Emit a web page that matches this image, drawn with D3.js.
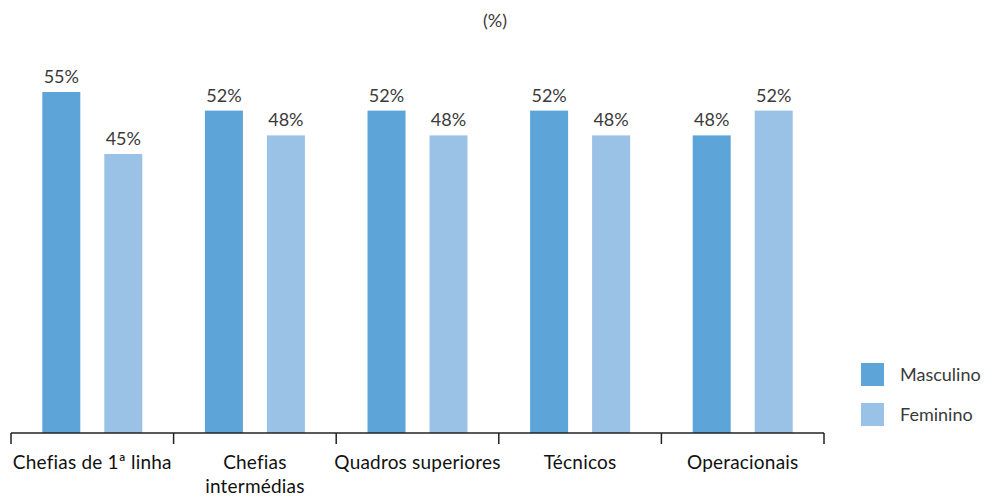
<!DOCTYPE html>
<html>
<head>
<meta charset="utf-8">
<script src="https://cdn.jsdelivr.net/npm/d3@7"></script>
<style>
  html, body { margin: 0; padding: 0; background: #fff; }
  svg { display: block; font-family: Lato, "Open Sans", sans-serif; }
</style>
</head>
<body>
<svg id="chart" width="984" height="499"></svg>
<script>
const categories = [["Chefias de 1ª linha"], ["Chefias", "intermédias"], ["Quadros superiores"], ["Técnicos"], ["Operacionais"]];
const seriesNames = ["Masculino", "Feminino"];
const masculino = [55, 52, 52, 52, 48];
const feminino = [45, 48, 48, 48, 52];
const colors = ["#5DA5D8", "#9AC2E6"];
const title = "(%)";

const values = [masculino, feminino];
const svg = d3.select("#chart");
const textColor = "#3a3a3a";

const catKeys = categories.map(c => c.join(" "));
const x0 = d3.scaleBand().domain(catKeys).range([11, 824]).padding(0);
const x1 = d3.scaleBand().domain(seriesNames).range([-50, 50]).paddingInner(0.387).paddingOuter(0);
const y = d3.scaleLinear().domain([0, 60]).range([433, 61]);

svg.append("text")
  .attr("x", 495).attr("y", 27)
  .attr("text-anchor", "middle")
  .attr("font-size", 18)
  .attr("fill", textColor)
  .text(title);

const groups = svg.selectAll("g.cat")
  .data(catKeys)
  .join("g")
  .attr("class", "cat")
  .attr("transform", d => `translate(${x0(d) + x0.bandwidth() / 2},0)`);

groups.each(function(cat, i) {
  const g = d3.select(this);
  seriesNames.forEach((s, si) => {
    const v = values[si][i];
    g.append("rect")
      .attr("x", x1(s))
      .attr("y", y(v))
      .attr("width", x1.bandwidth())
      .attr("height", y(0) - y(v))
      .attr("fill", colors[si]);
    g.append("text")
      .attr("x", x1(s) + x1.bandwidth() / 2)
      .attr("y", y(v) - 9)
      .attr("text-anchor", "middle")
      .attr("font-size", 18)
      .attr("fill", textColor)
      .text(v + "%");
  });
});

// axis
const axisG = svg.append("g");
axisG.append("line")
  .attr("x1", x0.range()[0]).attr("x2", x0.range()[1])
  .attr("y1", y(0)).attr("y2", y(0))
  .attr("stroke", "#222").attr("stroke-width", 1.5);
const boundaries = catKeys.map(c => x0(c)).concat([x0.range()[1]]);
axisG.selectAll("line.tick")
  .data(boundaries)
  .join("line")
  .attr("class", "tick")
  .attr("x1", d => d).attr("x2", d => d)
  .attr("y1", y(0)).attr("y2", y(0) + 11)
  .attr("stroke", "#222").attr("stroke-width", 1.5);

categories.forEach((lines, i) => {
  const cx = x0(catKeys[i]) + x0.bandwidth() / 2;
  const t = svg.append("text")
    .attr("text-anchor", "middle")
    .attr("font-size", 19)
    .attr("letter-spacing", 0.2)
    .attr("fill", "#111");
  lines.forEach((ln, li) => {
    t.append("tspan").attr("x", cx).attr("y", 469 + li * 24).text(ln);
  });
});

// legend
const legend = svg.append("g");
seriesNames.forEach((s, i) => {
  const ly = 363 + i * 40;
  legend.append("rect")
    .attr("x", 861).attr("y", ly)
    .attr("width", 23).attr("height", 23)
    .attr("fill", colors[i]);
  legend.append("text")
    .attr("x", 900).attr("y", ly + 18)
    .attr("font-size", 18)
    .attr("fill", textColor)
    .text(s);
});
</script>
</body>
</html>
